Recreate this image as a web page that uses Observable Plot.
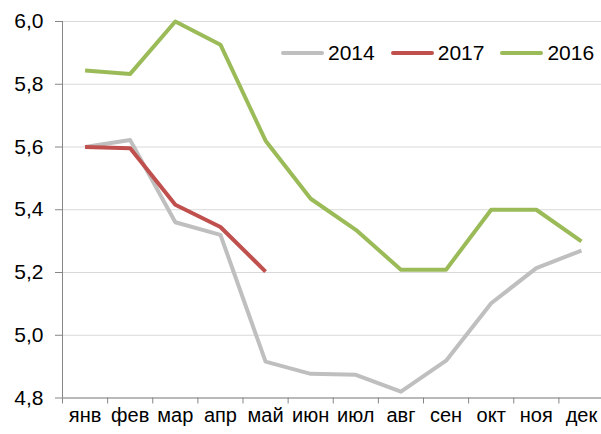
<!DOCTYPE html>
<html><head><meta charset="utf-8">
<script src="https://cdn.jsdelivr.net/npm/d3@7"></script>
<script src="https://cdn.jsdelivr.net/npm/@observablehq/plot@0.6"></script>
<style>
body{margin:0;background:#fff;font-family:"Liberation Sans",Arial,sans-serif;}
#wrap{position:relative;width:601px;height:434px;}
#legend{position:absolute;left:281px;top:40px;display:flex;align-items:center;font-size:21px;color:#000;line-height:25px;}
.item{display:flex;align-items:center;margin-right:16px;}
.sw{width:43px;height:4px;border-radius:2px;margin-right:4px;}
</style></head><body>
<div id="wrap"><div id="chart"></div><div id="legend"></div></div>
<script>
const months = ["янв","фев","мар","апр","май","июн","июл","авг","сен","окт","ноя","дек"];
const s2014 = [5.60, 5.622, 5.36, 5.32, 4.916, 4.877, 4.874, 4.820, 4.919, 5.102, 5.214, 5.270];
const s2017 = [5.60, 5.596, 5.416, 5.345, 5.203];
const s2016 = [5.844, 5.833, 6.00, 5.926, 5.62, 5.435, 5.336, 5.209, 5.209, 5.40, 5.40, 5.299];
const seriesNames = ["2014", "2017", "2016"];
const seriesColors = ["#bfbfbf", "#c0504d", "#9bbb59"];
const yTicks = [4.8, 5.0, 5.2, 5.4, 5.6, 5.8, 6.0];

const seriesValues = {"2014": s2014, "2017": s2017, "2016": s2016};
const data = seriesNames.flatMap(name => seriesValues[name].map((v, i) => ({series: name, i, v})));
const fmt = d => d.toFixed(1).replace(".", ",");
const axisColor = "#868686";

const chart = Plot.plot({
  width: 601, height: 434,
  marginLeft: 62, marginRight: 0, marginTop: 21, marginBottom: 36.5,
  x: {domain: [0, 12], range: [62, 603.5], label: null},
  y: {domain: [4.8, 6.0], label: null},
  color: {domain: seriesNames, range: seriesColors},
  style: {fontFamily: "'Liberation Sans', Arial, sans-serif", color: "#000", background: "#fff"},
  marks: [
    Plot.gridY(yTicks, {stroke: "#d9d9d9", strokeOpacity: 1}),
    Plot.ruleY([4.8], {stroke: axisColor}),
    Plot.ruleX([0], {stroke: axisColor}),
    Plot.axisY(yTicks, {tickSize: 7, tickPadding: 12, tickFormat: fmt, fontSize: 21, stroke: axisColor, fill: "#000", label: null}),
    Plot.axisX(d3.range(13), {tickSize: 6, tickFormat: () => "", stroke: axisColor, label: null}),
    Plot.axisX(d3.range(12).map(i => i + 0.5), {tickSize: 0, tickPadding: 10, tickFormat: d => months[Math.round(d - 0.5)], fontSize: 20, fill: "#000", label: null}),
    Plot.line(data, {x: d => d.i + 0.5, y: "v", z: "series", stroke: "series", strokeWidth: 4, strokeLinejoin: "round", strokeLinecap: "butt"})
  ]
});
document.getElementById("chart").appendChild(chart);

const legend = document.getElementById("legend");
seriesNames.forEach((name, k) => {
  const item = document.createElement("div");
  item.className = "item";
  const sw = document.createElement("div");
  sw.className = "sw";
  sw.style.background = seriesColors[k];
  const t = document.createElement("span");
  t.textContent = name;
  item.appendChild(sw); item.appendChild(t);
  legend.appendChild(item);
});
</script>
</body></html>
